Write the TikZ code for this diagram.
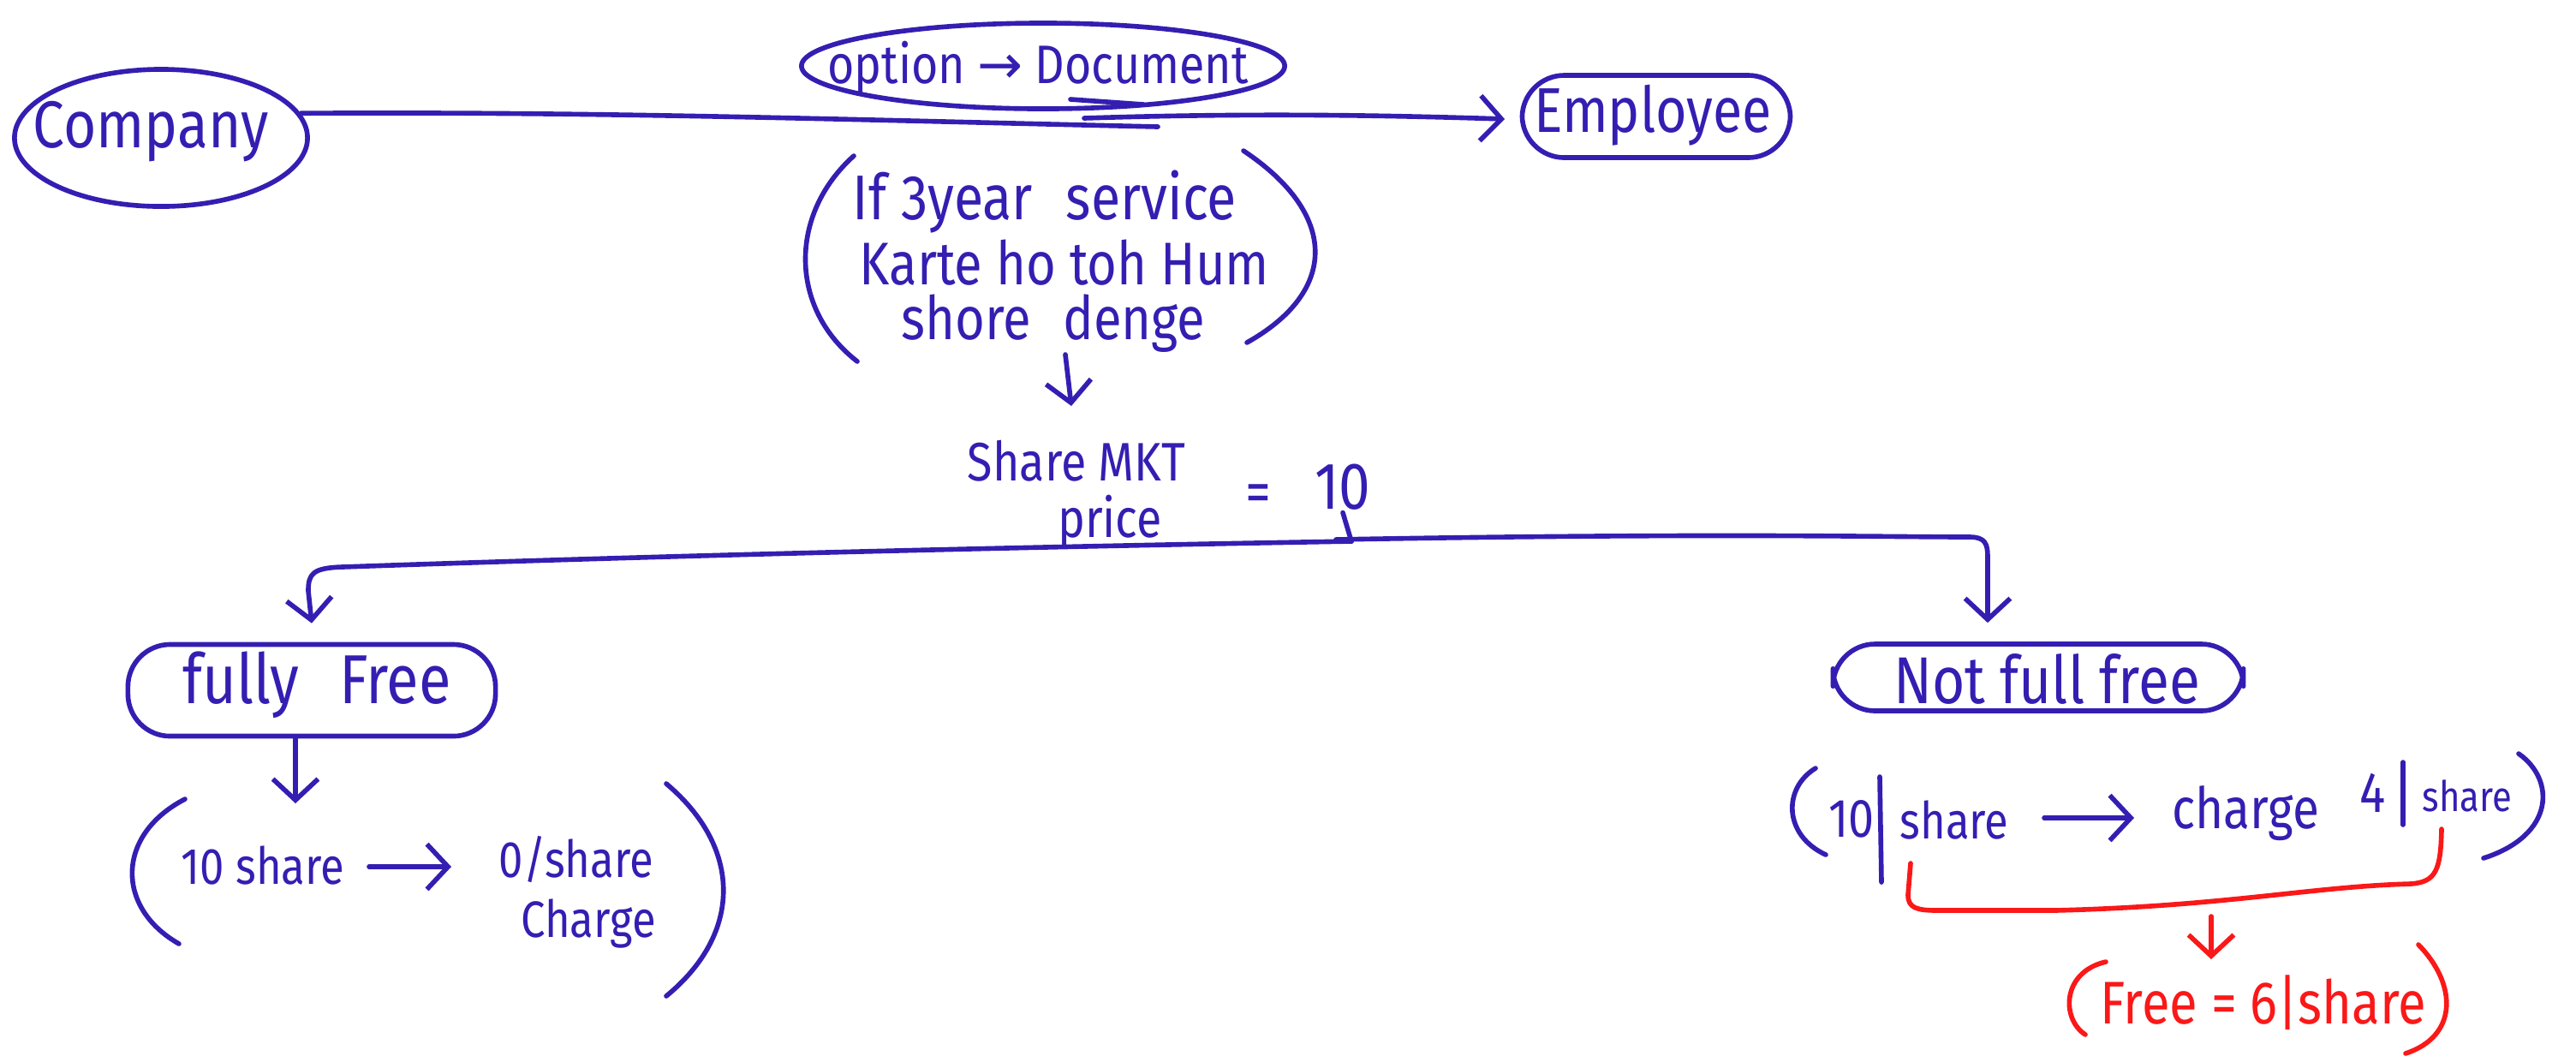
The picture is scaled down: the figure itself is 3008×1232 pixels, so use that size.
\documentclass[tikz,border=0pt]{standalone}
\usepackage{fontspec}
\setmainfont{Fira Sans}[FakeStretch=0.85]
\newfontfamily\symf{DejaVu Sans}
\usetikzlibrary{arrows.meta,shapes.geometric}
\definecolor{ink}{RGB}{52,30,178}
\definecolor{redink}{RGB}{250,24,24}
\begin{document}
\begin{tikzpicture}[x=0.01cm,y=-0.01cm,
  line width=1.6pt, line cap=round, line join=round,
  every path/.style={draw=ink},
  hw/.style={text=ink, font=\fontsize{#1}{#1}\selectfont, inner sep=0pt},
  hw/.default=20,
  hwred/.style={text=redink, font=\fontsize{#1}{#1}\selectfont, inner sep=0pt},
  hwred/.default=20,
  arr/.style={-{Straight Barb[length=7pt,width=15pt,line width=1.6pt]}},
  oval/.style={ellipse, draw=ink, line width=1.6pt},
  hbox/.style={rectangle, rounded corners=14pt, draw=ink, line width=1.6pt}]
\useasboundingbox[draw=none] (0,0) rectangle (3008,1232);

% top row
\node[oval, minimum width=3.42cm, minimum height=1.6cm] (company) at (188,161) {};
\node[hw=22] (companyt) at (176,154) {Company};
\node[oval, minimum width=5.64cm, minimum height=1.0cm] (option) at (1218,77) {};
\node[hw=18] (optiont) at (1212,80) {option {\symf →} Document};
\node[hbox, minimum width=3.13cm, minimum height=0.96cm] (employee) at (1934,136) {};
\node[hw=21] (employeet) at (1930,135) {Employee};

% main connector (drawn in two overlapping strokes)
\coordinate (m1) at (1352,148);
\coordinate (m2) at (1266,138);
\coordinate (m3) at (1757,139);
\draw (company.10) .. controls (700,130) and (1000,140) .. (m1);
\draw[arr] (m2) .. controls (1450,132) and (1600,134) .. (m3);
% extra stroke under option ellipse
\coordinate (o1) at (1250,116);
\coordinate (o2) at (1335,122);
\draw (o1) -- (o2);

% condition in parentheses
\node[hw=21] (c1) at (1220,236) {If 3year\hspace{0.3em} service};
\node[hw=20] (c2) at (1243,307) {Karte ho toh Hum};
\node[hw=20] (c3) at (1230,378) {shore\hspace{0.3em} denge};
\draw (997,182) .. controls (921,250) and (921,360) .. (1001,422);
\draw (1452,176) .. controls (1563,250) and (1563,340) .. (1456,400);
\coordinate (a1) at (1244,414);
\coordinate (a2) at (1251,474);
\draw[arr] (a1) -- (a2);

% share market price
\node[hw=18] (smkt) at (1257,538) {Share MKT};
\node[hw=18] (price) at (1296,610) {price};
\node[hw=20] (eq) at (1469,582) {=};
\node[hw=22] (ten) at (1568,569) {10};
\coordinate (j) at (1578,632);
\draw (ten.south) -- (j);

% branches
\node[hbox, minimum width=4.29cm, minimum height=1.07cm] (fully) at (364,806) {};
\node[hw=23] (fullyt) at (370,800) {fully\hspace{0.35em} Free};
\node[hbox, minimum width=4.79cm, minimum height=0.78cm] (notfull) at (2380,791) {};
\node[hw=22] (notfullt) at (2390,793) {Not full free};
\draw[arr] (j) .. controls (1000,642) and (600,655) .. (400,662)
  .. controls (365,663) and (360,670) .. (360,690) -- ([yshift=0.22cm]fully.north);
\draw[arr] (j) -- (1560,630) .. controls (2000,622) and (2200,627) .. (2300,627)
  .. controls (2318,627) and (2321,635) .. (2321,650) -- ([xshift=-0.59cm,yshift=0.22cm]notfull.north);

% left result
\coordinate (f2) at (345,938);
\draw[arr] ([xshift=-0.19cm]fully.south) -- (f2);
\node[hw=17] (tenshare) at (307,1010) {10 share};
\node[hw=17] (zeroshare) at (673,1003) {0/share};
\node[hw=17] (charge1) at (687,1078) {Charge};
\coordinate (la1) at (431,1012);
\coordinate (la2) at (527,1012);
\draw[arr] (la1) -- (la2);
\draw (216,933) .. controls (135,975) and (135,1060) .. (209,1102);
\draw (778,915) .. controls (867,990) and (867,1090) .. (778,1163);

% right result
\node[hw=18] (rten) at (2162,956) {10};
\node[hw=17] (rshare) at (2282,957) {share};
\node[hw=19] (rcharge) at (2622,950) {charge};
\node[hw=19] (rfour) at (2771,926) {4};
\node[hw=14] (rshare2) at (2881,929) {share};
\draw (2195,907) -- (2197,1030);
\draw (2806,890) -- (2806,963);
\coordinate (ra1) at (2387,955);
\coordinate (ra2) at (2492,955);
\draw[arr] (ra1) -- (ra2);
\draw (2120,897) .. controls (2082,920) and (2082,975) .. (2132,998);
\draw (2941,880) .. controls (2984,910) and (2984,975) .. (2900,1002);

% red part
\coordinate (b1) at (2231,1008);
\coordinate (b2) at (2851,968);
\coordinate (r1) at (2582,1070);
\coordinate (r2) at (2582,1120);
\draw[draw=redink] (b1) -- (2228,1045) .. controls (2228,1060) and (2238,1063) .. (2262,1063)
  -- (2400,1063) .. controls (2600,1058) and (2700,1035) .. (2815,1032)
  .. controls (2845,1030) and (2850,1015) .. (b2);
\draw[draw=redink, arr] (r1) -- (r2);
\node[hwred=20] (free) at (2643,1171) {Free = 6|share};
\draw[draw=redink] (2459,1123) .. controls (2407,1135) and (2407,1190) .. (2435,1208);
\draw[draw=redink] (2824,1103) .. controls (2870,1150) and (2870,1210) .. (2809,1230);
\end{tikzpicture}
\end{document}
